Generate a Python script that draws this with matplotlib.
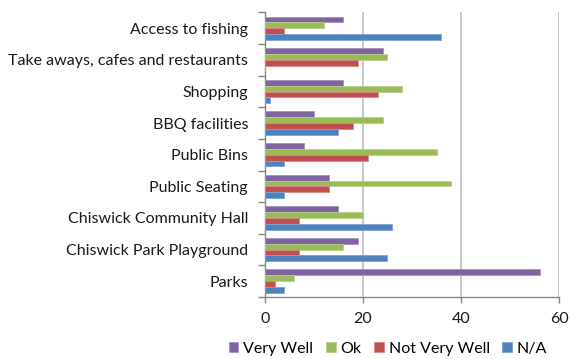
import matplotlib
matplotlib.use("Agg")
import matplotlib.pyplot as plt
from matplotlib.ticker import FixedLocator
import numpy as np

categories = [
    "Access to fishing",
    "Take aways, cafes and restaurants",
    "Shopping",
    "BBQ facilities",
    "Public Bins",
    "Public Seating",
    "Chiswick Community Hall",
    "Chiswick Park Playground",
    "Parks",
]
series_names = ["Very Well", "Ok", "Not Very Well", "N/A"]
very_well = [16, 24, 16, 10, 8, 13, 15, 19, 56]
ok = [12, 25, 28, 24, 35, 38, 20, 16, 6]
not_very_well = [4, 19, 23, 18, 21, 13, 7, 7, 2]
not_applicable = [36, 0, 1, 15, 4, 4, 26, 25, 4]
x_ticks = [0, 20, 40, 60]

colors = ["#8064A2", "#9BBB59", "#C0504D", "#4F81BD"]
edges = ["#A58FC0", "#B7D08A", "#D98784", "#7FA3D3"]

plt.rcParams["font.family"] = ["Lato", "DejaVu Sans"]

W, H = 570, 359
fig = plt.figure(figsize=(W / 100, H / 100), dpi=100)
ax = fig.add_axes([264.7 / W, (H - 297) / H, (559.3 - 264.7) / W, (297 - 12.5) / H])

y = np.arange(len(categories))
bar_h = 0.185
values = [very_well, ok, not_very_well, not_applicable]
for j, (name, vals) in enumerate(zip(series_names, values)):
    ax.barh(y + (j - 1.5) * bar_h, vals, height=bar_h, color=colors[j],
            edgecolor=edges[j], linewidth=0.6, label=name, zorder=3)

ax.set_xlim(0, 60)
ax.set_ylim(len(categories) - 0.5, -0.5)

ax.set_yticks(y)
ax.set_yticklabels(categories, fontsize=11.5, color="#1a1a1a")
ax.yaxis.set_minor_locator(FixedLocator(np.arange(-0.5, len(categories), 1.0)))
ax.tick_params(axis="y", which="major", length=0, pad=12)
ax.tick_params(axis="y", which="minor", length=5, width=1, color="#868686")

ax.set_xticks(x_ticks)
ax.set_xticklabels([str(v) for v in x_ticks], fontsize=11.5, color="#1a1a1a")
ax.tick_params(axis="x", length=4, width=1, color="#868686", pad=7)

ax.grid(axis="x", color="#BFBFBF", linewidth=1.2, zorder=0)
ax.set_axisbelow(True)
for side in ("top", "right"):
    ax.spines[side].set_visible(False)
for side in ("left", "bottom"):
    ax.spines[side].set_color("#868686")
    ax.spines[side].set_linewidth(1)

fig.legend(loc="center", bbox_to_anchor=(388 / W, (H - 349) / H), ncol=4,
           frameon=False, fontsize=11.5, handlelength=0.6, handleheight=0.6,
           handletextpad=0.3, columnspacing=0.8, borderaxespad=0)

fig.savefig("out.png", dpi=100)
